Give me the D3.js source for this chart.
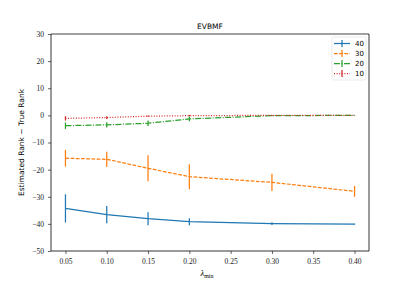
<!DOCTYPE html>
<html lang="en">
<head>
    <meta charset="UTF-8">
    <title>EVBMF</title>
    <style>
        body { margin: 0; background: #fff; }
        svg { display: block; }
        .tick text { font-family: "Liberation Serif", "DejaVu Serif", serif; font-size: 7.5px; fill: #222; }
        .tick line { stroke: #000; stroke-width: 0.6; }
        .domain { display: none; }
    </style>
</head>
<body>
    <svg width="411" height="283"></svg>
    <script src="https://d3js.org/d3.v7.min.js"></script>
    <script>
        const lambdas = [0.05, 0.10, 0.15, 0.20, 0.30, 0.40];
        const seriesNames = ["40", "30", "20", "10"];
        const means40 = [-34.3, -36.6, -38.1, -39.2, -39.9, -40.1];
        const errs40 = [5.2, 3.2, 2.4, 1.3, 0.5, 0.2];
        const means30 = [-15.8, -16.2, -19.5, -22.6, -24.7, -28.0];
        const errs30 = [3.1, 2.8, 4.8, 4.6, 3.2, 2.0];
        const means20 = [-3.8, -3.5, -2.9, -1.3, -0.1, 0.0];
        const errs20 = [1.2, 1.0, 1.0, 0.9, 0.2, 0.1];
        const means10 = [-1.1, -0.8, -0.3, -0.1, 0.0, 0.0];
        const errs10 = [0.8, 0.5, 0.3, 0.2, 0.1, 0.0];
        const yTicks = [-50, -40, -30, -20, -10, 0, 10, 20, 30];
        const xTicks = [0.05, 0.10, 0.15, 0.20, 0.25, 0.30, 0.35, 0.40];

        const colors = ["#1f77b4", "#ff7f0e", "#2ca02c", "#d62728"];
        const dashes = [null, "3.7,1.5", "6,1.5,1,1.5", "1,1.6"];
        const series = [
            { name: seriesNames[0], mean: means40, err: errs40 },
            { name: seriesNames[1], mean: means30, err: errs30 },
            { name: seriesNames[2], mean: means20, err: errs20 },
            { name: seriesNames[3], mean: means10, err: errs10 }
        ];

        const mLeft = 51, mRight = 369, mTop = 34, mBottom = 251;
        const svg = d3.select("svg");

        const x = d3.scaleLinear().domain([0.0325, 0.4175]).range([mLeft, mRight]);
        const y = d3.scaleLinear().domain([-50, 30]).range([mBottom, mTop]);

        // axes
        svg.append("g")
            .attr("transform", `translate(0,${mBottom})`)
            .call(d3.axisBottom(x).tickValues(xTicks).tickSize(3).tickPadding(5)
                .tickFormat(d3.format(".2f")));
        svg.append("g")
            .attr("transform", `translate(${mLeft},0)`)
            .call(d3.axisLeft(y).tickValues(yTicks).tickSize(3).tickPadding(4)
                .tickFormat(d => d < 0 ? "\u2212" + Math.abs(d) : d));

        // series lines + error bars
        const line = d3.line().x((d, i) => x(lambdas[i])).y(d => y(d));
        series.forEach((s, k) => {
            const g = svg.append("g");
            g.append("path")
                .attr("d", line(s.mean))
                .attr("fill", "none")
                .attr("stroke", colors[k])
                .attr("stroke-width", 1.25)
                .attr("stroke-dasharray", dashes[k]);
            g.selectAll("line")
                .data(s.mean)
                .join("line")
                .attr("x1", (d, i) => x(lambdas[i]))
                .attr("x2", (d, i) => x(lambdas[i]))
                .attr("y1", (d, i) => y(d + s.err[i]))
                .attr("y2", (d, i) => y(d - s.err[i]))
                .attr("stroke", colors[k])
                .attr("stroke-width", 1.25);
        });

        // spines
        svg.append("line").attr("x1", mLeft).attr("x2", mRight).attr("y1", mTop).attr("y2", mTop)
            .attr("stroke", "#808080").attr("stroke-width", 1.4);
        svg.append("line").attr("x1", mLeft).attr("x2", mRight).attr("y1", mBottom).attr("y2", mBottom)
            .attr("stroke", "#000").attr("stroke-width", 0.8);
        svg.append("line").attr("x1", mLeft).attr("x2", mLeft).attr("y1", mTop).attr("y2", mBottom)
            .attr("stroke", "#000").attr("stroke-width", 0.8);
        svg.append("line").attr("x1", mRight).attr("x2", mRight).attr("y1", mTop).attr("y2", mBottom)
            .attr("stroke", "#000").attr("stroke-width", 0.8);

        // title and labels
        svg.append("text").attr("x", (mLeft + mRight) / 2).attr("y", 29)
            .attr("text-anchor", "middle")
            .style("font-family", "'DejaVu Sans', sans-serif").style("font-size", "7.5px")
            .text("EVBMF");
        svg.append("text")
            .attr("transform", `translate(24,${(mTop + mBottom) / 2}) rotate(-90)`)
            .attr("text-anchor", "middle")
            .style("font-family", "'DejaVu Sans', sans-serif").style("font-size", "7.5px")
            .text("Estimated Rank \u2212 True Rank");
        const xl = svg.append("text").attr("x", (mLeft + mRight) / 2 - 3).attr("y", 276)
            .attr("text-anchor", "middle")
            .style("font-family", "'Liberation Serif', serif").style("font-size", "8.5px");
        xl.append("tspan").style("font-style", "italic").text("\u03bb");
        xl.append("tspan").attr("dy", 2).style("font-size", "6px").text("min");

        // legend
        const lg = svg.append("g").attr("transform", "translate(332,37)");
        lg.append("rect").attr("width", 34).attr("height", 43).attr("rx", 1.5)
            .attr("fill", "#fff").attr("stroke", "#ddd").attr("stroke-width", 0.6);
        series.forEach((s, k) => {
            const yy = 6.5 + k * 10;
            lg.append("line").attr("x1", 2).attr("x2", 18).attr("y1", yy).attr("y2", yy)
                .attr("stroke", colors[k]).attr("stroke-width", 1.25)
                .attr("stroke-dasharray", dashes[k]);
            lg.append("line").attr("x1", 10).attr("x2", 10).attr("y1", yy - 3.5).attr("y2", yy + 3.5)
                .attr("stroke", colors[k]).attr("stroke-width", 1.25);
            lg.append("text").attr("x", 23).attr("y", yy + 2.5)
                .style("font-family", "'DejaVu Sans', sans-serif").style("font-size", "7px")
                .text(s.name);
        });
    </script>
</body>
</html>
